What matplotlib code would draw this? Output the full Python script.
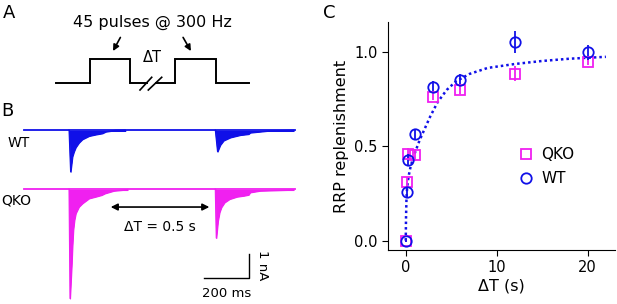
import numpy as np
import matplotlib
matplotlib.use("Agg")
import matplotlib.pyplot as plt

# ---- panel C data ----
dt_wt = [0, 0.1, 0.3, 1, 3, 6, 12, 20]
rrp_wt = [0.0, 0.26, 0.43, 0.565, 0.815, 0.853, 1.055, 1.0]
err_wt = [0.01, 0.03, 0.03, 0.03, 0.03, 0.03, 0.06, 0.04]

dt_qko = [0, 0.1, 0.3, 1, 3, 6, 12, 20]
rrp_qko = [0.0, 0.31, 0.46, 0.455, 0.765, 0.80, 0.885, 0.95]
err_qko = [0.01, 0.03, 0.03, 0.03, 0.02, 0.02, 0.04, 0.02]

# fitted recovery curve, sampled from the figure
fit_t = [0, 0.03, 0.08, 0.15, 0.25, 0.35, 0.5, 0.75, 1.0, 1.5, 2.0, 2.7,
         3.5, 4.5, 5.5, 7, 9, 12, 15, 18, 22]
fit_y = [0, 0.12, 0.22, 0.28, 0.32, 0.35, 0.385, 0.43, 0.465, 0.53, 0.585,
         0.66, 0.735, 0.80, 0.845, 0.885, 0.917, 0.938, 0.954, 0.966, 0.976]

# ---- panel B traces: envelope of each train response (ms after onset, nA) ----
trace_len = 1205
onsets = [200, 850]
wt_env_t = [[0, 7, 15, 22, 30, 44, 59, 89, 118, 148, 163, 207, 250],
            [0, 10, 22, 37, 67, 111, 148, 155, 229, 348]]
wt_env_i = [[0, -1.74, -1.11, -0.90, -0.72, -0.53, -0.39, -0.25, -0.19, -0.14, -0.07, -0.01, 0],
            [0, -0.90, -0.625, -0.44, -0.31, -0.21, -0.17, -0.11, -0.04, -0.01]]
qko_env_t = [[0, 4.4, 12, 15, 19, 24, 30, 44, 59, 89, 118, 145, 160, 200, 260],
             [0, 4.4, 12, 19, 27, 41, 63, 96, 126, 148, 155, 200, 348]]
qko_env_i = [[0, -4.56, -3.1, -2.4, -1.7, -1.29, -1.01, -0.74, -0.60, -0.39, -0.32, -0.25, -0.18, -0.07, -0.02],
             [0, -2.04, -1.32, -0.97, -0.76, -0.56, -0.42, -0.32, -0.28, -0.24, -0.14, -0.07, -0.03]]
wt_base = 0.0
qko_base = -2.46

# ---- panel A stimulus schematic (vertices in panel units) ----
stim_left_x = [55.7, 90, 90, 130, 130, 146.7]
stim_left_y = [82.7, 82.7, 59, 59, 82.7, 82.7]
stim_right_x = [156, 175, 175, 215.7, 215.7, 249.3]
stim_right_y = [82.7, 82.7, 59, 59, 82.7, 82.7]

blue = "#1010e8"
magenta = "#f020f0"

fig = plt.figure(figsize=(6.17, 3.04), dpi=100)
W, H = 617.0, 304.0

# ---------- panel A ----------
axA = fig.add_axes([0, 1 - 110 / H, 310 / W, 110 / H])
axA.set_xlim(0, 310)
axA.set_ylim(110, 0)
axA.axis("off")
axA.plot(stim_left_x, stim_left_y, color="black", lw=1.4, solid_joinstyle="miter")
axA.plot(stim_right_x, stim_right_y, color="black", lw=1.4, solid_joinstyle="miter")
axA.plot([140, 151.7], [90, 77.3], color="black", lw=1.2)
axA.plot([148.3, 161.7], [90, 77.3], color="black", lw=1.2)
axA.text(152.5, 26.5, "45 pulses @ 300 Hz", ha="center", va="baseline", fontsize=11.5)
axA.text(152.5, 61.5, "ΔT", ha="center", va="baseline", fontsize=10.5)
arrow_kw = dict(arrowstyle="-|>", color="black", lw=1.2, mutation_scale=9)
axA.annotate("", xy=(111.7, 53.5), xytext=(121.7, 35), arrowprops=arrow_kw)
axA.annotate("", xy=(192.3, 53.5), xytext=(181.7, 35), arrowprops=arrow_kw)

fig.text(3 / W, 1 - 13 / H, "A", fontsize=13, va="center", ha="left")
fig.text(1 / W, 1 - 111 / H, "B", fontsize=13, va="center", ha="left")
fig.text(323 / W, 1 - 12.5 / H, "C", fontsize=13, va="center", ha="left")

# ---------- panel B ----------
axB = fig.add_axes([0, 0, 310 / W, 194 / H])
axB.set_xlim(-106.7, 1271)
axB.set_ylim(-7.25, 0.833)
axB.axis("off")

for base, env_t, env_i, col in [(wt_base, wt_env_t, wt_env_i, blue),
                                (qko_base, qko_env_t, qko_env_i, magenta)]:
    axB.plot([0, trace_len], [base, base], color=col, lw=1.3)
    for on, tt, ii in zip(onsets, env_t, env_i):
        t = np.array(tt) + on
        axB.fill_between(t, base - 0.04, base + np.array(ii), color=col, lw=0.8)
        axB.plot(t, base + np.array(ii), color=col, lw=0.8)

axB.annotate("", xy=(373, -3.21), xytext=(836, -3.21),
             arrowprops=dict(arrowstyle="<|-|>", color="black", lw=1.2, mutation_scale=10))
axB.text(604, -4.03, "ΔT = 0.5 s", ha="center", va="center", fontsize=10)
axB.plot([800, 1000, 1000], [-6.15, -6.15, -5.15], color="black", lw=1.0)
axB.text(900, -6.83, "200 ms", ha="center", va="center", fontsize=9.5)
axB.text(1058, -5.63, "1 nA", ha="center", va="center", fontsize=9.5, rotation=270)

fig.text(19 / W, 1 - 143 / H, "WT", ha="center", va="center", fontsize=10)
fig.text(16 / W, 1 - 200 / H, "QKO", ha="center", va="center", fontsize=10)

# ---------- panel C ----------
axC = fig.add_axes([388 / W, 54 / H, 227 / W, 228 / H])
axC.plot(fit_t, fit_y, color=blue, ls=(0, (1, 1.2)), lw=1.8)
axC.errorbar(dt_qko, rrp_qko, yerr=err_qko, fmt="s", ms=7, mfc="none",
             mec=magenta, mew=1.3, ecolor=magenta, elinewidth=1.3, label="QKO")
axC.errorbar(dt_wt, rrp_wt, yerr=err_wt, fmt="o", ms=7.5, mfc="none",
             mec=blue, mew=1.3, ecolor=blue, elinewidth=1.3, label="WT")
axC.set_xlim(-1.95, 23)
axC.set_ylim(-0.05, 1.161)
axC.set_xticks([0, 10, 20])
axC.set_yticks([0.0, 0.5, 1.0])
axC.spines["top"].set_visible(False)
axC.spines["right"].set_visible(False)
axC.tick_params(labelsize=10.5, length=4)
axC.set_xlabel("ΔT (s)", fontsize=11.5, labelpad=2)
axC.set_ylabel("RRP replenishment", fontsize=11.5, labelpad=4)
handles, labels = axC.get_legend_handles_labels()
handles = [h[0] for h in handles]
axC.legend(handles, labels, frameon=False, fontsize=11, handlelength=0.8,
           handletextpad=0.6, labelspacing=0.6, loc="center left",
           bbox_to_anchor=(0.52, 0.365))

fig.savefig("out.png", dpi=100)
